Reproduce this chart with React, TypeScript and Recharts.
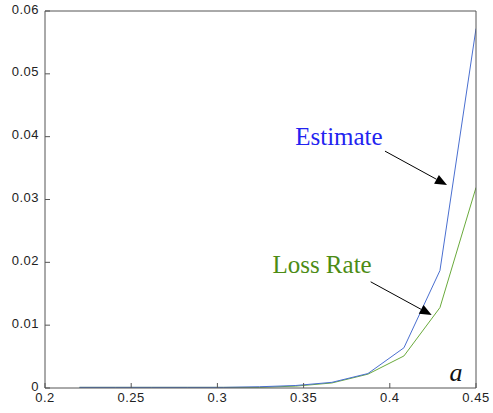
import { LineChart, Line, XAxis, YAxis, ReferenceDot, ReferenceLine } from "recharts";

const aValues = [0.22, 0.2409, 0.2618, 0.2827, 0.3036, 0.3245, 0.3455, 0.3664, 0.3873, 0.4082, 0.4291, 0.45];
const estimate = [0.0001, 0.0001, 0.0001, 0.0001, 0.0001, 0.0002, 0.0004, 0.0009, 0.0023, 0.0064, 0.0187, 0.0572];
const lossRate = [0.0001, 0.0001, 0.0001, 0.0001, 0.0001, 0.0001, 0.0003, 0.0008, 0.0022, 0.0051, 0.0128, 0.0319];

const xTicks = [0.2, 0.25, 0.3, 0.35, 0.4, 0.45];
const yTicks = [0, 0.01, 0.02, 0.03, 0.04, 0.05, 0.06];

const data = aValues.map((a, i) => ({ a, estimate: estimate[i], lossRate: lossRate[i] }));

const AXIS = "#555";
const tickFont = { fontFamily: "Liberation Sans, Arial, sans-serif", fontSize: 13, fill: "#222", letterSpacing: 0.5 };

// line with a filled arrowhead at its end
const Arrow = (props: any) => {
  const { x1, y1, x2, y2 } = props;
  const ang = Math.atan2(y2 - y1, x2 - x1);
  const len = 12;
  const w = 5;
  const bx = x2 - len * Math.cos(ang);
  const by = y2 - len * Math.sin(ang);
  const px = -Math.sin(ang) * w;
  const py = Math.cos(ang) * w;
  return (
    <g>
      <line x1={x1} y1={y1} x2={bx} y2={by} stroke="#000" strokeWidth={1} />
      <polygon points={`${x2},${y2} ${bx + px},${by + py} ${bx - px},${by - py}`} fill="#000" />
    </g>
  );
};

const textShape = (label: string, color: string, italic = false) => (p: any) => (
  <text
    x={p.cx}
    y={p.cy}
    textAnchor="middle"
    fill={color}
    fontFamily="Liberation Serif, Times New Roman, serif"
    fontSize={italic ? 26 : 25}
    fontStyle={italic ? "italic" : "normal"}
  >
    {label}
  </text>
);

export default function App() {
  return (
    <div style={{ position: "absolute", left: 0, top: 0, background: "#fff" }}>
      <LineChart width={493} height={413} data={data} margin={{ top: 10, right: 16, bottom: 5, left: 5 }}>
        <XAxis
          dataKey="a"
          type="number"
          domain={[0.2, 0.45]}
          ticks={xTicks}
          allowDataOverflow
          height={20}
          tickSize={-5}
          tickMargin={10}
          stroke={AXIS}
          tick={tickFont}
          interval={0}
        />
        <XAxis
          xAxisId="top"
          orientation="top"
          dataKey="a"
          type="number"
          domain={[0.2, 0.45]}
          ticks={xTicks}
          height={1}
          tickSize={-5}
          tick={false}
          stroke={AXIS}
        />
        <YAxis
          type="number"
          domain={[0, 0.06]}
          ticks={yTicks}
          width={40}
          tickSize={-5}
          tickMargin={11}
          stroke={AXIS}
          tick={{ ...tickFont, dy: -2 }}
          interval={0}
        />
        <YAxis
          yAxisId="right"
          orientation="right"
          type="number"
          domain={[0, 0.06]}
          ticks={yTicks}
          width={1}
          tickSize={-5}
          tick={false}
          stroke={AXIS}
        />
        <Line dataKey="lossRate" stroke="#6aaa3c" strokeWidth={1} dot={false} isAnimationActive={false} />
        <Line dataKey="estimate" stroke="#4a6fd0" strokeWidth={1} dot={false} isAnimationActive={false} />
        <ReferenceLine
          segment={[
            { x: 0.3972, y: 0.0377 },
            { x: 0.4332, y: 0.0323 },
          ]}
          shape={Arrow}
        />
        <ReferenceLine
          segment={[
            { x: 0.3889, y: 0.0169 },
            { x: 0.4243, y: 0.0116 },
          ]}
          shape={Arrow}
        />
        <ReferenceDot x={0.3705} y={0.0387} shape={textShape("Estimate", "#2323f0")} />
        <ReferenceDot x={0.3607} y={0.0183} shape={textShape("Loss Rate", "#4c8c14")} />
        <ReferenceDot x={0.4384} y={0.0011} shape={textShape("a", "#111", true)} />
      </LineChart>
    </div>
  );
}
